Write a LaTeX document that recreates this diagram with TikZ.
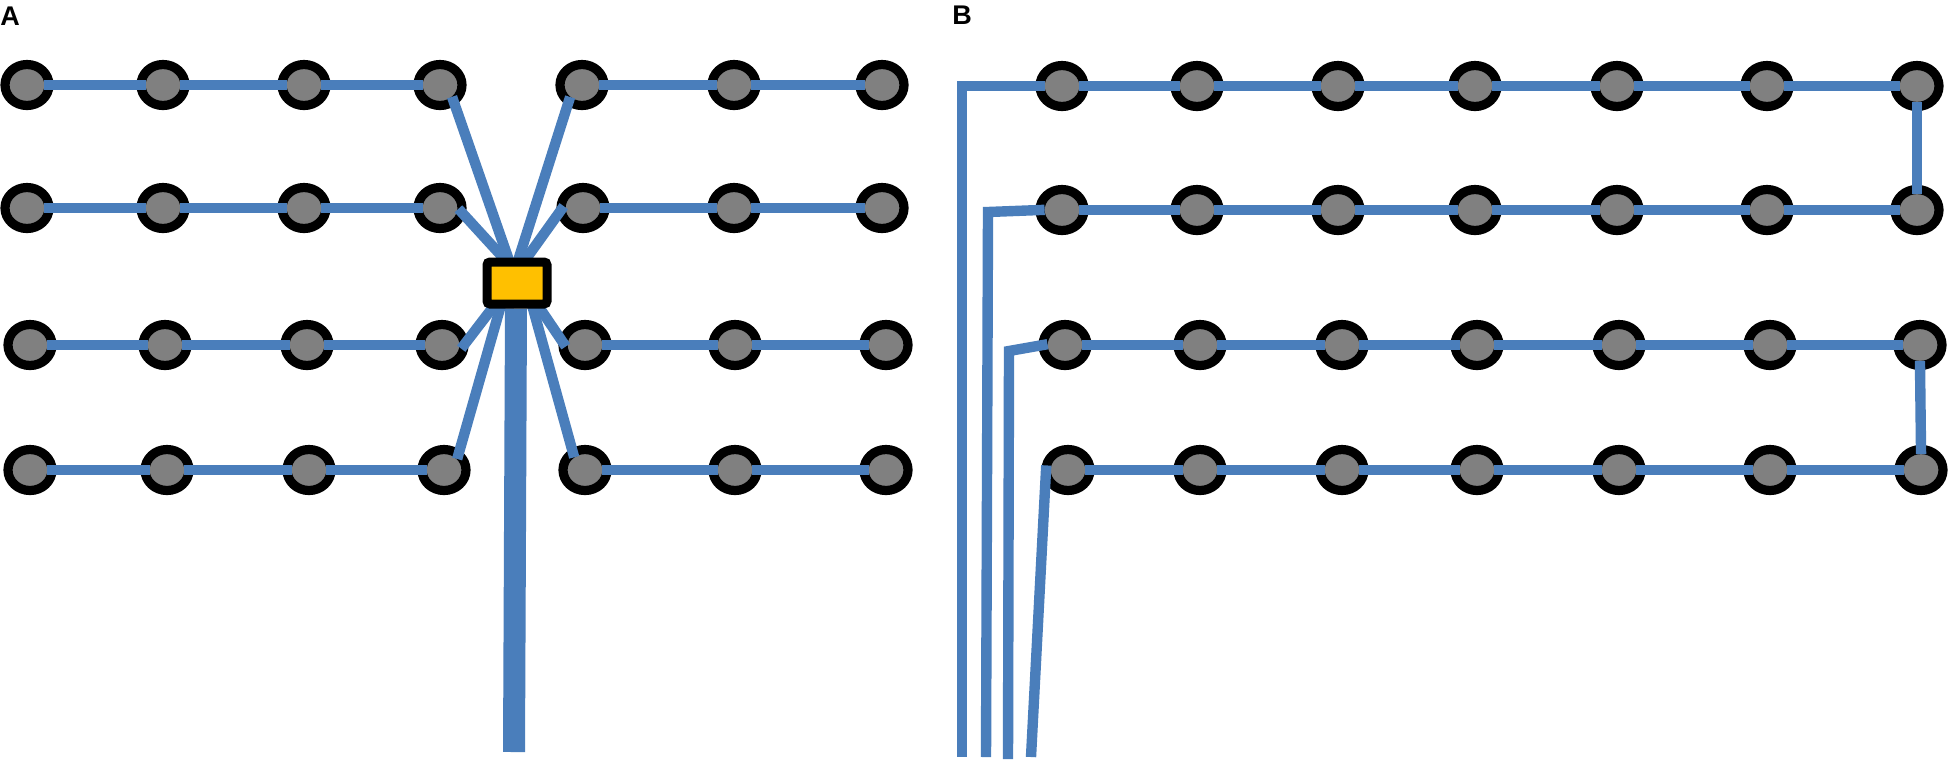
\documentclass[tikz,border=0pt]{standalone}
\usepackage{fontspec}
\setmainfont{Liberation Sans}
\usetikzlibrary{shapes.geometric}
\definecolor{wireblue}{RGB}{74,126,187}
\definecolor{devgray}{RGB}{128,128,128}
\definecolor{hubgold}{RGB}{255,192,0}
\pgfdeclarelayer{front}
\pgfsetlayers{main,front}
\begin{document}
\begin{tikzpicture}[x=0.5pt,y=-0.5pt,
  dev/.style={ellipse, draw=black, fill=devgray, line width=4.6pt, minimum width=22pt, minimum height=20.5pt, inner sep=0pt, outer sep=0pt},
  hub/.style={rectangle, draw=black, fill=hubgold, line width=4.5pt, minimum width=30pt, minimum height=21pt, rounded corners=1.5pt, inner sep=0pt},
  wire/.style={draw=wireblue, line width=5.2pt},
  link/.style={wire, shorten <=-2.3pt, shorten >=-2.3pt},
  feed/.style={wire, shorten <=-2.3pt},
  tohub/.style={wire, shorten <=-2.3pt, shorten >=-3pt},
  trunk/.style={draw=wireblue, line width=11pt},
  panel/.style={font=\bfseries\fontsize{13.5pt}{16pt}\selectfont, inner sep=0pt, anchor=base west}]
\useasboundingbox (0,0) rectangle (1949,762);

% labels
\node[panel] (labA) at (0,25) {A};
\node[panel] (labB) at (952,24) {B};

% ---------- Panel A ----------
\begin{pgfonlayer}{front}
\node[hub] (hub) at (517,283) {};
\end{pgfonlayer}

\foreach \r/\y/\xa/\xb/\xc/\xd/\xe/\xf/\xg in
  {1/85/27/163/304/440/582/734/882,
   2/208/27/163/304/440/583/734/882,
   3/345/30/165/307/442/585/735/886,
   4/470/30/167/309/444/585/735/886}{
  \node[dev] (L\r1) at (\xa,\y) {};
  \node[dev] (L\r2) at (\xb,\y) {};
  \node[dev] (L\r3) at (\xc,\y) {};
  \node[dev] (L\r4) at (\xd,\y) {};
  \node[dev] (R\r1) at (\xe,\y) {};
  \node[dev] (R\r2) at (\xf,\y) {};
  \node[dev] (R\r3) at (\xg,\y) {};
}
\foreach \r in {1,...,4}{
  \draw[link] (L\r1.east) -- (L\r2.west);
  \draw[link] (L\r2.east) -- (L\r3.west);
  \draw[link] (L\r3.east) -- (L\r4.west);
  \draw[link] (R\r1.east) -- (R\r2.west);
  \draw[link] (R\r2.east) -- (R\r3.west);
}
% spokes to the hub
\draw[tohub] (L14.-50) -- ([xshift=-4.5pt]hub.north);
\draw[tohub] (L24.-11) -- ([xshift=-7pt]hub.north);
\draw[tohub] (R11.-129) -- ([xshift=1pt]hub.north);
\draw[tohub] (R21.185) -- ([xshift=5pt]hub.north);
\draw[tohub] (L34.0) -- ([xshift=-12.5pt]hub.south);
\draw[tohub] (L44.47) -- ([xshift=-8.5pt]hub.south);
\draw[tohub] (R31.174) -- ([xshift=11.5pt]hub.south);
\draw[tohub] (R41.125) -- ([xshift=8pt]hub.south);
\coordinate (trunkend) at (514,752);
\draw[trunk] ([xshift=-0.5pt]hub.south) -- (trunkend);

% ---------- Panel B ----------
\foreach \r/\y/\xa/\xb/\xc/\xd/\xe/\xf/\xg in
  {1/86/1062/1197/1338/1475/1617/1767/1917,
   2/210/1062/1197/1338/1475/1617/1767/1917,
   3/345/1065/1200/1342/1477/1619/1770/1920,
   4/470/1068/1200/1342/1477/1619/1770/1921}{
  \node[dev] (B\r1) at (\xa,\y) {};
  \node[dev] (B\r2) at (\xb,\y) {};
  \node[dev] (B\r3) at (\xc,\y) {};
  \node[dev] (B\r4) at (\xd,\y) {};
  \node[dev] (B\r5) at (\xe,\y) {};
  \node[dev] (B\r6) at (\xf,\y) {};
  \node[dev] (B\r7) at (\xg,\y) {};
}
\foreach \r in {1,...,4}{
  \foreach \c [evaluate=\c as \n using int(\c+1)] in {1,...,6}{
    \draw[link] (B\r\c.east) -- (B\r\n.west);
  }
}
\draw[link] (B17.south) -- (B27.north);
\draw[link] (B37.south) -- (B47.north);

\coordinate (f1a) at (962,86);
\coordinate (f1b) at (962,757);
\coordinate (f2a) at (988,212);
\coordinate (f2b) at (986,757);
\coordinate (f3a) at (1009,351);
\coordinate (f3b) at (1008,759);
\coordinate (f4b) at (1031,757);
\draw[feed] (B11.west) -- (f1a) -- (f1b);
\draw[feed] (B21.west) -- (f2a) -- (f2b);
\draw[feed] (B31.west) -- (f3a) -- (f3b);
\draw[feed] (B41.west) -- (f4b);
\end{tikzpicture}
\end{document}
